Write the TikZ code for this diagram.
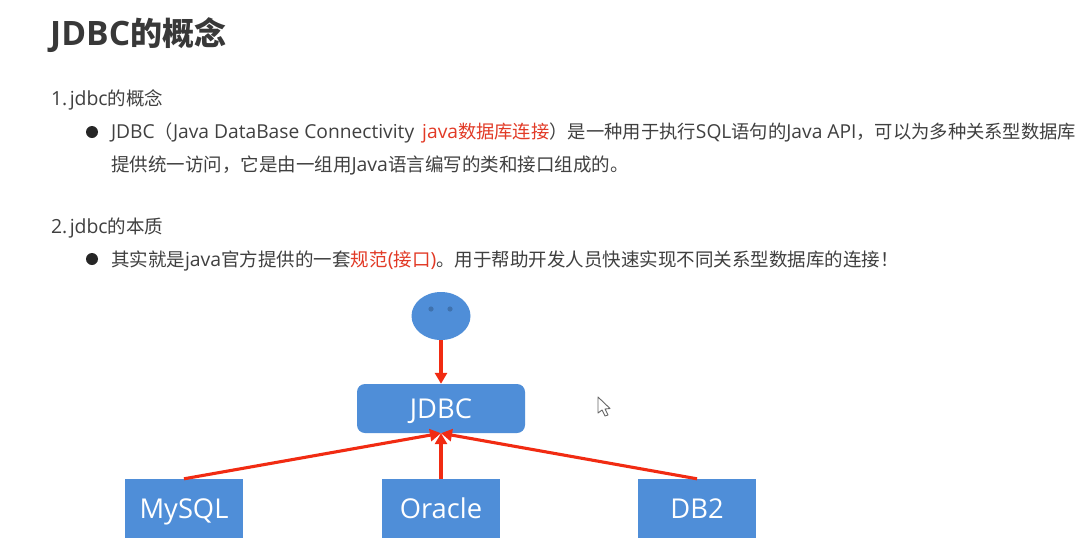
\documentclass[tikz,border=0pt]{standalone}
\usepackage{fontspec}
\setmainfont[Scale=1.05]{Open Sans}
\newfontfamily\cjk{Noto Sans CJK SC}
\newcommand{\C}[1]{{\cjk #1}}
\definecolor{txt}{HTML}{404040}
\definecolor{hl}{HTML}{E23A26}
\definecolor{blue1}{HTML}{4F8ED8}
\definecolor{eye}{HTML}{3F72AE}
\definecolor{arr}{HTML}{F12B12}
\usetikzlibrary{arrows.meta,shapes.geometric}
\tikzset{
  body/.style={anchor=base west,inner sep=0pt,outer sep=0pt,text=txt,font=\fontsize{18.5}{18.5}\selectfont},
  bullet/.style={circle,fill=black!85,draw=none,minimum size=12pt,inner sep=0pt},
  boxn/.style={fill=blue1,draw=none,text=white,minimum width=118.5pt,minimum height=59pt,inner sep=0pt,text height=19pt,text depth=0pt,font=\fontsize{26}{26}\selectfont},
  conn/.style={draw=arr,line width=3.1pt,-{Triangle[length=11pt,width=12pt]},shorten >=0pt}
}
\begin{document}
\begin{tikzpicture}[x=1pt,y=-1pt]
\useasboundingbox (0,0) rectangle (1084,549);
\fill[white] (0,0) rectangle (1084,549);
\node[anchor=base west,inner sep=0pt,text=black!78,font=\fontsize{32}{32}\selectfont\bfseries] (title) at (50,45) {JDBC\C{\bfseries 的概念}};
\node[body] (l1) at (51,105) {1.\hspace{2.5pt}jdbc\C{的概念}};
\node[bullet] (b1) at (92,132) {};
\node[body,font=\fontsize{18.3}{18.3}\selectfont] (l2) at (111,138.5) {JDBC\C{（}Java DataBase Connectivity\hspace{8pt}\textcolor{hl}{java\C{数据库连接}}\C{）是一种用于执行}SQL\C{语句的}Java API\C{，可以为多种关系型数据库}};
\node[body] (l3) at (111,171) {\C{提供统一访问，它是由一组用}Java\C{语言编写的类和接口组成的。}};
\node[body] (l4) at (51,233) {2.\hspace{2.5pt}jdbc\C{的本质}};
\node[bullet] (b2) at (92,259) {};
\node[body] (l5) at (111,266) {\C{其实就是}java\C{官方提供的一套}\textcolor{hl}{\C{规范}(\C{接口})}\C{。用于帮助开发人员快速实现不同关系型数据库的连接！}};
\node[ellipse,fill=blue1,minimum width=59pt,minimum height=48pt,inner sep=0pt] (face) at (441,316) {};
\fill[eye] (431,309) circle (2.6pt) (450,309) circle (2.6pt);
\node[boxn,rounded corners=8pt,minimum width=168pt,minimum height=49pt] (jdbc) at (441,408.5) {JDBC};
\node[boxn] (mysql) at (184,508.5) {MySQL};
\node[boxn] (oracle) at (441,508.5) {Oracle};
\node[boxn] (db2) at (697,508.5) {DB2};
\draw[conn] (face.south) -- (jdbc.north);
\draw[conn] (mysql.north) -- (jdbc.south);
\draw[conn] (oracle.north) -- (jdbc.south);
\draw[conn] (db2.north) -- (jdbc.south);
\draw[fill=white,draw=black!60,line width=0.9pt,line join=round] (598,397) -- (598,413) -- (602,410) -- (605,416) -- (608,415) -- (605,409) -- (610,408.5) -- cycle;
\end{tikzpicture}
\end{document}
